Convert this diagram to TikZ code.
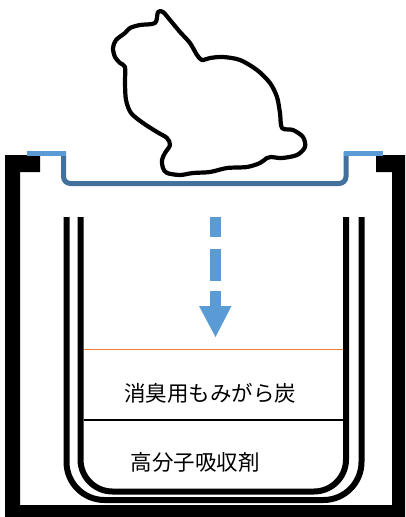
\documentclass[tikz,border=0pt]{standalone}
\usepackage{fontspec}
\newfontfamily\jpfont{Noto Sans CJK JP}
\definecolor{traydark}{HTML}{41719C}
\definecolor{traylight}{HTML}{5B9BD5}
\definecolor{huskorange}{RGB}{237,125,49}
\begin{document}
\begin{tikzpicture}[x=1pt,y=-1pt,
  cupwall/.style={line width=6pt,black},
  label/.style={font=\jpfont\fontsize{21.5}{24}\selectfont,inner sep=0pt,anchor=center}]
\useasboundingbox (0,0) rectangle (405,517);
\fill[white] (0,0) rectangle (405,517);

% outer housing
\fill[black] (5,155) -- (40,155) -- (40,172) -- (20,172) -- (20,505)
  -- (392,505) -- (392,172) -- (376,172) -- (376,155) -- (405,155)
  -- (405,517) -- (5,517) -- cycle;

% double-walled container
\draw[cupwall,rounded corners=38pt] (66.5,217) -- (66.5,500) -- (361.5,500) -- (361.5,217);
\draw[cupwall,rounded corners=32pt] (80.5,217) -- (80.5,491.5) -- (346,491.5) -- (346,217);

% layer boundaries
\fill[huskorange] (83.5,348.7) rectangle (343,350.3);
\draw[black,line width=1.4pt] (83.5,420) -- (343,420);

% layer labels
\node[label] (charcoal) at (210,393) {消臭用もみがら炭};
\node[label] (polymer) at (195,462) {高分子吸収剤};

% downward flow arrow
\draw[traylight,line width=11pt,dash pattern=on 20pt off 12pt on 32pt off 10pt on 16pt] (215.5,217) -- (215.5,307);
\fill[traylight] (199,306) -- (231.5,306) -- (215.5,337) -- cycle;

% tray
\draw[traydark,line width=5pt,rounded corners=7pt] (63.5,152) -- (63.5,183.5) -- (346,183.5) -- (346,152);
\draw[traylight,line width=4.5pt] (27,153.5) -- (66,153.5);
\draw[traylight,line width=4.5pt] (343.5,153.5) -- (383,153.5);

% cat silhouette
\draw[black,line width=4.2pt,fill=white,line join=round] plot[smooth cycle,tension=0.5] coordinates {
  (158,12) (155,23) (140,25) (130,28) (125,33) (116,40) (113,48) (115,57)
  (120,63) (125,67) (125,83) (126,100) (131,113) (143,123) (157,132)
  (167,138) (170,145) (165,153) (162,160) (163,168) (167,173) (180,175)
  (193,173) (210,172) (227,168) (247,167) (260,163) (267,158) (271,157)
  (282,158) (297,155) (305,147) (303,137) (293,130) (282,128) (280,113)
  (277,97) (270,83) (257,70) (240,60) (223,57) (210,58) (202,60)
  (197,55) (190,43) (180,32) (170,20) (163,12)};
\end{tikzpicture}
\end{document}
